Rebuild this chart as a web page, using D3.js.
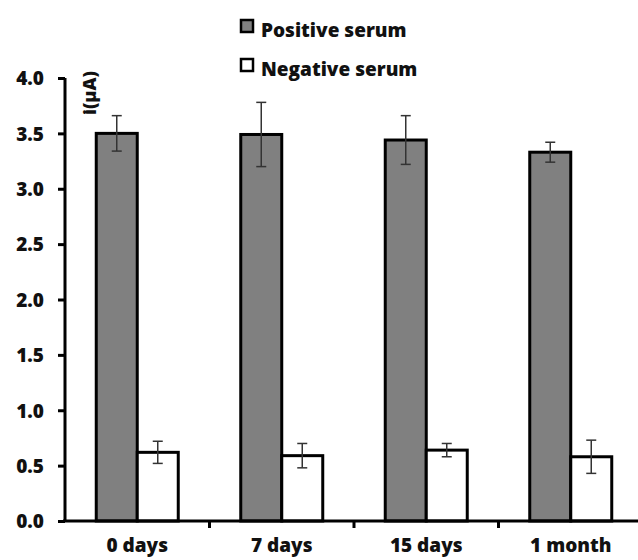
<!DOCTYPE html>
<html><head><meta charset="utf-8">
<script src="https://cdn.jsdelivr.net/npm/d3@7"></script>
<style>body{margin:0;background:#fff}svg{display:block}text{font-family:"Open Sans",Lato,sans-serif;font-weight:800;fill:#111}</style>
</head><body><svg id="c" width="638" height="560"></svg>
<script>
const categories = ["0 days", "7 days", "15 days", "1 month"];
const seriesNames = ["Positive serum", "Negative serum"];
const positive = [3.50, 3.49, 3.44, 3.33];
const positiveErr = [0.16, 0.29, 0.22, 0.09];
const negative = [0.62, 0.59, 0.64, 0.58];
const negativeErr = [0.10, 0.11, 0.06, 0.15];
const yTicks = [0, 0.5, 1.0, 1.5, 2.0, 2.5, 3.0, 3.5, 4.0];
const colors = ["#808080", "#ffffff"];

const svg = d3.select("#c");
const x0 = 65, x1 = 643, yTop = 78, yBot = 521;
const x = d3.scaleBand().domain(categories).range([x0, x1]).paddingInner(0).paddingOuter(0);
const y = d3.scaleLinear().domain([0, 4]).range([yBot, yTop]);
const barW = 41;

const data = categories.map((c, i) => ({c, vals: [
  {s: 0, v: positive[i], e: positiveErr[i]},
  {s: 1, v: negative[i], e: negativeErr[i]}]}));

const g = svg.append("g");
data.forEach(d => {
  const cx = x(d.c) + x.bandwidth() / 2;
  d.vals.forEach(b => {
    const bx = cx - barW + b.s * barW;
    g.append("rect").attr("x", bx).attr("y", y(b.v)).attr("width", barW).attr("height", y(0) - y(b.v))
      .attr("fill", colors[b.s]).attr("stroke", "#000").attr("stroke-width", 3);
    const ex = bx + barW / 2;
    g.append("line").attr("x1", ex).attr("x2", ex).attr("y1", y(b.v + b.e)).attr("y2", y(b.v - b.e))
      .attr("stroke", "#333").attr("stroke-width", 1.5);
    [b.v + b.e, b.v - b.e].forEach(t => g.append("line").attr("x1", ex - 5).attr("x2", ex + 5)
      .attr("y1", y(t)).attr("y2", y(t)).attr("stroke", "#333").attr("stroke-width", 1.5));
  });
});

// Y axis
const ya = svg.append("g").attr("transform", `translate(${x0},0)`)
  .call(d3.axisLeft(y).tickValues(yTicks).tickFormat(d3.format(".1f")).tickSize(7).tickPadding(14));
ya.select(".domain").attr("stroke", "#000").attr("stroke-width", 3).attr("d", `M0,${yBot}V${yTop}`);
ya.selectAll(".tick line").attr("stroke", "#000").attr("stroke-width", 3);
ya.selectAll(".tick text").style("font-size", "19px").attr("dy", "0.36em");

// X axis
const xa = svg.append("g").attr("transform", `translate(0,${yBot})`)
  .call(d3.axisBottom(x).tickSize(0).tickPadding(18));
xa.select(".domain").attr("stroke", "#000").attr("stroke-width", 3).attr("d", `M${x0-2},0H${x1}`);
xa.selectAll(".tick text").style("font-size", "19px");
svg.append("g").selectAll("line").data(categories.slice(1)).join("line")
  .attr("x1", d => x(d)).attr("x2", d => x(d)).attr("y1", yBot).attr("y2", yBot + 7)
  .attr("stroke", "#000").attr("stroke-width", 3);

// Y label
svg.append("text").attr("transform", "translate(96,93) rotate(-90)").attr("text-anchor", "middle")
  .style("font-size", "18px").text("i(µA)");

// Legend
const lg = svg.append("g");
seriesNames.forEach((n, i) => {
  const ly = 20 + i * 39;
  lg.append("rect").attr("x", 241).attr("y", ly).attr("width", 12).attr("height", 12)
    .attr("fill", colors[i]).attr("stroke", "#000").attr("stroke-width", 2.5);
  lg.append("text").attr("x", 261).attr("y", ly + 17).style("font-size", "19px").text(n);
});
</script></body></html>
